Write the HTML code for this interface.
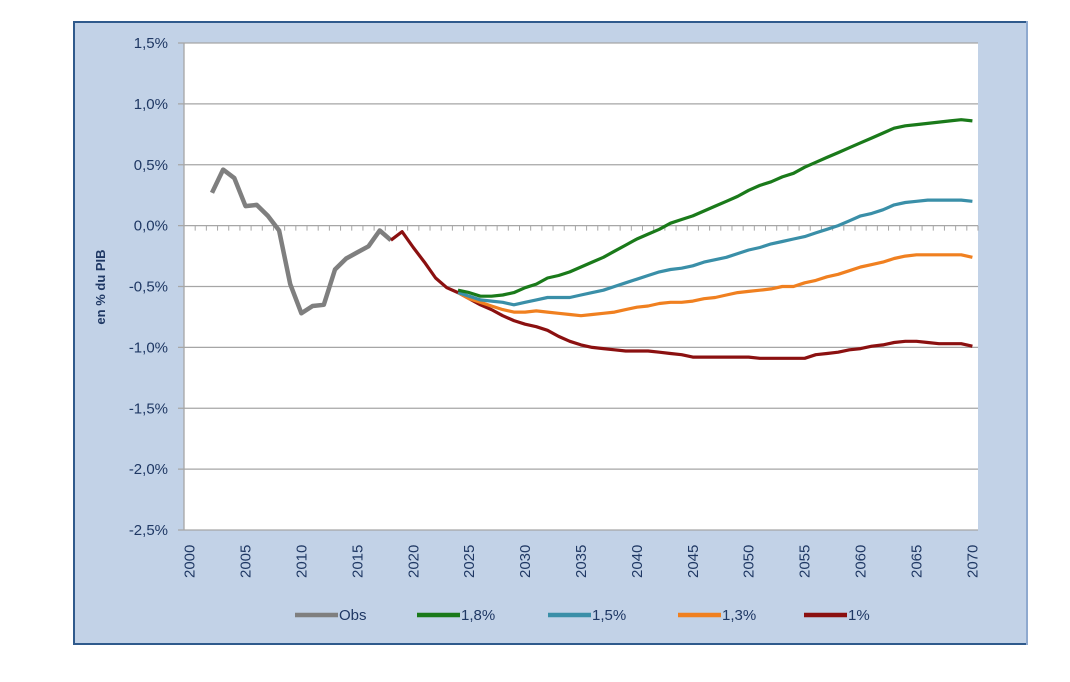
<!DOCTYPE html>
<html><head><meta charset="utf-8"><style>
body{margin:0;background:#fff;width:1070px;height:677px;overflow:hidden;font-family:"Liberation Sans",sans-serif}
</style></head><body>
<svg id="c" width="1070" height="677">
<rect x="73" y="21" width="955" height="624" fill="#c2d2e7" stroke="none"/>
<line x1="73" y1="22" x2="1028" y2="22" stroke="#2f5a8c" stroke-width="2"/>
<line x1="74" y1="21" x2="74" y2="645" stroke="#2f5a8c" stroke-width="2"/>
<line x1="73" y1="644" x2="1028" y2="644" stroke="#2f5a8c" stroke-width="2"/>
<line x1="1027" y1="21" x2="1027" y2="645" stroke="#8ea9cf" stroke-width="2"/>
<rect x="184" y="43" width="794" height="487" fill="#fff"/>
<text transform="translate(105,287) rotate(-90)" text-anchor="middle" font-size="13" font-weight="bold" fill="#1f3864">en % du PIB</text>
<g id="grid"></g><g id="series"></g><g id="legend"></g>
</svg>
<script>
const years=[];for(let y=2000;y<=2070;y++)years.push(y);
const yTicks=[1.5,1.0,0.5,0.0,-0.5,-1.0,-1.5,-2.0,-2.5];
const yTickLabels=["1,5%","1,0%","0,5%","0,0%","-0,5%","-1,0%","-1,5%","-2,0%","-2,5%"];
const xTickYears=[2000,2005,2010,2015,2020,2025,2030,2035,2040,2045,2050,2055,2060,2065,2070];
const obsStart=2002;
const obsValues=[0.27,0.46,0.39,0.16,0.17,0.08,-0.04,-0.48,-0.72,-0.66,-0.65,-0.36,-0.27,-0.22,-0.17,-0.04,-0.12];
const commonStart=2018;
const commonValues=[-0.12,-0.05,-0.18,-0.30,-0.43,-0.51,-0.55];
const scenStart=2024;
const s18=[-0.53,-0.55,-0.58,-0.58,-0.57,-0.55,-0.51,-0.48,-0.43,-0.41,-0.38,-0.34,-0.30,-0.26,-0.21,-0.16,-0.11,-0.07,-0.03,0.02,0.05,0.08,0.12,0.16,0.20,0.24,0.29,0.33,0.36,0.40,0.43,0.48,0.52,0.56,0.60,0.64,0.68,0.72,0.76,0.80,0.82,0.83,0.84,0.85,0.86,0.87,0.86];
const s15=[-0.55,-0.58,-0.61,-0.62,-0.63,-0.65,-0.63,-0.61,-0.59,-0.59,-0.59,-0.57,-0.55,-0.53,-0.50,-0.47,-0.44,-0.41,-0.38,-0.36,-0.35,-0.33,-0.30,-0.28,-0.26,-0.23,-0.20,-0.18,-0.15,-0.13,-0.11,-0.09,-0.06,-0.03,0.00,0.04,0.08,0.10,0.13,0.17,0.19,0.20,0.21,0.21,0.21,0.21,0.20];
const s13=[-0.55,-0.60,-0.63,-0.66,-0.69,-0.71,-0.71,-0.70,-0.71,-0.72,-0.73,-0.74,-0.73,-0.72,-0.71,-0.69,-0.67,-0.66,-0.64,-0.63,-0.63,-0.62,-0.60,-0.59,-0.57,-0.55,-0.54,-0.53,-0.52,-0.50,-0.50,-0.47,-0.45,-0.42,-0.40,-0.37,-0.34,-0.32,-0.30,-0.27,-0.25,-0.24,-0.24,-0.24,-0.24,-0.24,-0.26];
const s10=[-0.55,-0.60,-0.65,-0.69,-0.74,-0.78,-0.81,-0.83,-0.86,-0.91,-0.95,-0.98,-1.00,-1.01,-1.02,-1.03,-1.03,-1.03,-1.04,-1.05,-1.06,-1.08,-1.08,-1.08,-1.08,-1.08,-1.08,-1.09,-1.09,-1.09,-1.09,-1.09,-1.06,-1.05,-1.04,-1.02,-1.01,-0.99,-0.98,-0.96,-0.95,-0.95,-0.96,-0.97,-0.97,-0.97,-0.99];
const seriesNames=["Obs","1,8%","1,5%","1,3%","1%"];
const seriesColors=["#7f7f7f","#1a7a1a","#3a8fa8","#f08020","#8b1010"];
const NS="http://www.w3.org/2000/svg";
const L=184,R=978,T=43,B=530,bw=(R-L)/years.length;
const xs=y=>L+(y-2000+0.5)*bw;
const ys=v=>T+(1.5-v)/4*(B-T);
function mk(t,a,p){const e=document.createElementNS(NS,t);for(const k in a)e.setAttribute(k,a[k]);p.appendChild(e);return e;}
const grid=document.getElementById('grid');
yTicks.forEach((v,i)=>{
 const ln=mk('line',{x1:178,x2:R,y1:ys(v),y2:ys(v),stroke:"#a6a6a6","stroke-width":1.3},grid);
 
 
 const t=mk('text',{x:168,y:ys(v)+5,"text-anchor":"end","font-size":15,fill:"#1f3864"},grid);
 t.textContent=yTickLabels[i];
 
 
});
mk('line',{x1:L,x2:L,y1:T,y2:B,stroke:"#a6a6a6","stroke-width":1.3},grid);
for(let i=0;i<=years.length;i++){mk('line',{x1:L+i*bw,x2:L+i*bw,y1:ys(0),y2:ys(0)+5,stroke:"#a6a6a6"},grid);}
xTickYears.forEach(y=>{
 const t=mk('text',{transform:`translate(${xs(y)+5},${B+48}) rotate(-90)`,"font-size":15,fill:"#1f3864"},grid);
 t.textContent=y;
 
 
});
const ser=document.getElementById('series');
function line(start,vals,color,name,w){
 const d=vals.map((v,i)=>(i?'L':'M')+xs(start+i).toFixed(1)+','+ys(v).toFixed(1)).join('');
 const p=mk('path',{d:d,fill:"none",stroke:color,"stroke-width":w,"stroke-linejoin":"round"},ser);
 
 
}
line(obsStart,obsValues,seriesColors[0],'series-obs',4.5);
line(scenStart,s10,seriesColors[4],'series-1pct',3.2);
line(scenStart,s13,seriesColors[3],'series-1-3pct',3.2);
line(scenStart,s15,seriesColors[2],'series-1-5pct',3.2);
line(scenStart,s18,seriesColors[1],'series-1-8pct',3.2);
line(commonStart,commonValues,seriesColors[4],'series-common',3.2);
const leg=document.getElementById('legend');
const lx=[295,417,548,678,804];
seriesNames.forEach((n,i)=>{
 const g=mk('g',{},leg);
 
 
 mk('line',{x1:lx[i],x2:lx[i]+43,y1:615,y2:615,stroke:seriesColors[i],"stroke-width":4.5},g);
 const t=mk('text',{x:lx[i]+44,y:620,"font-size":15,fill:"#1f3864"},g);
 t.textContent=n;
});
</script>
</body></html>
